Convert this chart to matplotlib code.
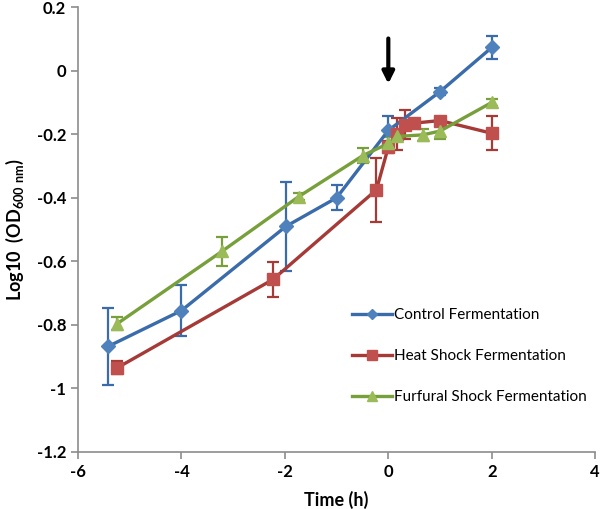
import matplotlib
matplotlib.use("Agg")
import matplotlib.pyplot as plt

plt.rcParams["font.family"] = ["Lato", "DejaVu Sans"]
plt.rcParams["mathtext.fontset"] = "custom"
plt.rcParams["mathtext.rm"] = "Lato"
plt.rcParams["mathtext.bf"] = "Lato:bold"
plt.rcParams["axes.unicode_minus"] = False

# Control Fermentation
t_control = [-5.42, -4.0, -1.98, -1.0, 0.0, 1.0, 2.0]
od_control = [-0.868, -0.755, -0.49, -0.40, -0.188, -0.066, 0.073]
err_control = [0.12, 0.08, 0.14, 0.04, 0.045, 0.01, 0.036]

# Heat Shock Fermentation
t_heat = [-5.24, -2.23, -0.23, 0.0, 0.16, 0.33, 0.5, 1.0, 2.0]
od_heat = [-0.935, -0.657, -0.375, -0.24, -0.20, -0.17, -0.165, -0.157, -0.197]
err_heat = [0.02, 0.054, 0.10, 0.02, 0.05, 0.045, 0.01, 0.01, 0.053]

# Furfural Shock Fermentation
t_furf = [-5.24, -3.22, -1.73, -0.49, 0.0, 0.17, 0.67, 1.0, 2.0]
od_furf = [-0.796, -0.569, -0.396, -0.267, -0.229, -0.207, -0.202, -0.19, -0.10]
err_furf = [0.02, 0.047, 0.01, 0.025, 0.02, 0.01, 0.02, 0.025, 0.01]

series = [
    (t_control, od_control, err_control, "Control Fermentation", "#3A6BAA", "#4F81BD", "D", 7),
    (t_heat, od_heat, err_heat, "Heat Shock Fermentation", "#A53A36", "#C0504D", "s", 9),
    (t_furf, od_furf, err_furf, "Furfural Shock Fermentation", "#77A03B", "#9BBB59", "^", 9),
]

fig = plt.figure(figsize=(6, 5.09), dpi=100)
ax = fig.add_axes([0.13, 0.112, 0.862, 0.874])

handles = []
for t, y, e, label, lc, mc, mk, ms in series:
    cont = ax.errorbar(t, y, yerr=e, color=lc, lw=2.4, marker=mk, markersize=ms,
                       markerfacecolor=mc, markeredgecolor=mc, ecolor=lc,
                       elinewidth=1.6, capsize=4, capthick=1.6, label=label)
    handles.append(cont[0])

# arrow marking the shock at t = 0
ax.annotate("", xy=(0, -0.05), xytext=(0, 0.11),
            arrowprops=dict(arrowstyle="-|>,head_width=0.35,head_length=0.7",
                            color="black", lw=3))

ax.set_xlim(-6, 4)
ax.set_ylim(-1.2, 0.2)
ax.set_xticks([-6, -4, -2, 0, 2, 4])
ax.set_yticks([-1.2, -1, -0.8, -0.6, -0.4, -0.2, 0, 0.2])
ax.set_yticklabels(["-1.2", "-1", "-0.8", "-0.6", "-0.4", "-0.2", "0", "0.2"])

for side in ["top", "right"]:
    ax.spines[side].set_visible(False)
for side in ["left", "bottom"]:
    ax.spines[side].set_color("#8C8C8C")
    ax.spines[side].set_linewidth(1.2)
ax.tick_params(colors="#8C8C8C", length=5, width=1.2, direction="out")
for lbl in ax.get_xticklabels() + ax.get_yticklabels():
    lbl.set_color("black")
    lbl.set_fontweight("bold")
    lbl.set_fontsize(12)

ax.set_xlabel("Time (h)", fontsize=13, fontweight="bold", labelpad=8)
ax.set_ylabel(r"Log10  (OD$_{\mathbf{600\ nm}}$)", fontsize=13, fontweight="bold", labelpad=8)

ax.legend(handles, [s[3] for s in series], loc="upper left",
          bbox_to_anchor=(0.515, 0.34), frameon=False,
          fontsize=11, handlelength=2.6, handletextpad=0.15, labelspacing=1.75,
          borderpad=0, markerscale=0.75)

fig.savefig("out.png", dpi=100)
